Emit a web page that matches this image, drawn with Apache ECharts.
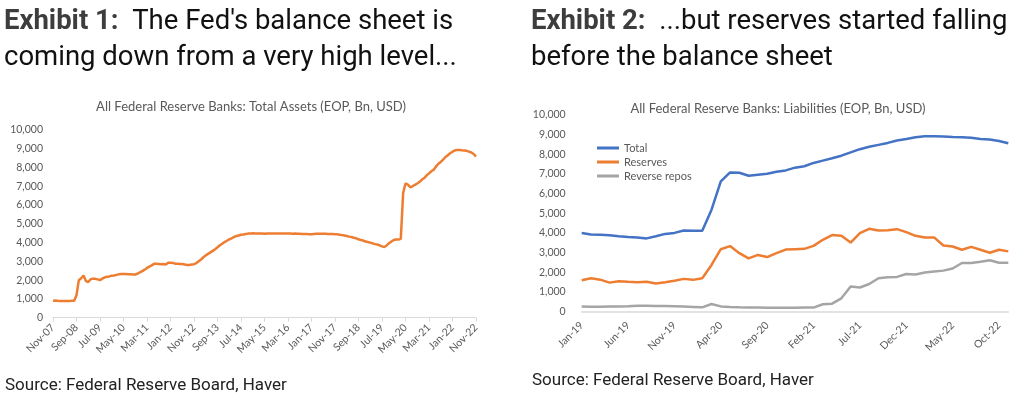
<!DOCTYPE html>
<html>
<head>
<meta charset="utf-8">
<script src="https://cdn.jsdelivr.net/npm/echarts@6/dist/echarts.min.js"></script>
<style>
html,body{margin:0;padding:0;background:#fff;}
#c{width:1024px;height:400px;}
</style>
</head>
<body>
<div id="c"></div>
<script>
var MONTHS = ['Jan','Feb','Mar','Apr','May','Jun','Jul','Aug','Sep','Oct','Nov','Dec'];
function monthLabels(startYear, startMonth, count) {
  var out = [];
  for (var i = 0; i < count; i++) {
    var m = (startMonth + i) % 12;
    var y = startYear + Math.floor((startMonth + i) / 12);
    out.push(MONTHS[m] + '-' + String(y % 100).padStart(2, '0'));
  }
  return out;
}

// Exhibit 1: total assets, monthly Nov-07 .. Nov-22 (Bn USD)
var assetCategories = monthLabels(2007, 10, 181);
var totalAssets = [
  890, 915, 900, 890, 890, 890, 890, 895, 905, 905,
  1200, 2000, 2100, 2250, 1950, 1900, 2050, 2080, 2070, 2040,
  2000, 2080, 2150, 2180, 2200, 2240, 2250, 2280, 2310, 2330,
  2330, 2330, 2320, 2310, 2300, 2300, 2350, 2420, 2480, 2560,
  2650, 2720, 2790, 2870, 2870, 2860, 2850, 2860, 2840, 2930,
  2930, 2920, 2880, 2870, 2860, 2860, 2840, 2810, 2810, 2830,
  2850, 2910, 3010, 3100, 3220, 3320, 3400, 3480, 3560, 3650,
  3750, 3860, 3940, 4030, 4100, 4170, 4230, 4300, 4350, 4380,
  4420, 4430, 4460, 4480, 4480, 4500, 4490, 4490, 4480, 4480,
  4470, 4490, 4480, 4490, 4490, 4480, 4490, 4490, 4490, 4480,
  4480, 4480, 4470, 4480, 4470, 4470, 4460, 4460, 4460, 4450,
  4450, 4460, 4470, 4470, 4470, 4470, 4470, 4460, 4460, 4460,
  4450, 4440, 4420, 4400, 4380, 4350, 4320, 4300, 4260, 4230,
  4180, 4140, 4110, 4060, 4030, 4000, 3960, 3920, 3900, 3850,
  3800, 3770, 3850, 3970, 4060, 4140, 4170, 4160, 4200, 6650,
  7150, 7090, 6950, 7000, 7080, 7150, 7240, 7360, 7440, 7580,
  7690, 7800, 7880, 8060, 8200, 8300, 8420, 8560, 8660, 8760,
  8840, 8910, 8940, 8940, 8920, 8910, 8890, 8850, 8800, 8720,
  8580
];

// Exhibit 2: liabilities, monthly Jan-19 .. Nov-22 (Bn USD)
var liabCategories = monthLabels(2019, 0, 47);
var totalLiab = [
  3990, 3920, 3910, 3880, 3830, 3790, 3760, 3720, 3830, 3950,
  4000, 4120, 4110, 4110, 5180, 6620, 7080, 7060, 6910, 6960,
  7010, 7110, 7180, 7320, 7390, 7560, 7680, 7800, 7930, 8100,
  8260, 8380, 8480, 8580, 8700, 8780, 8870, 8920, 8920, 8900,
  8880, 8870, 8840, 8780, 8750, 8680, 8560
];
var reserves = [
  1590, 1690, 1620, 1470, 1540, 1510, 1490, 1510, 1420, 1490,
  1570, 1660, 1610, 1690, 2370, 3170, 3330, 2970, 2700, 2880,
  2770, 2970, 3150, 3170, 3190, 3340, 3650, 3890, 3860, 3510,
  3990, 4210, 4120, 4140, 4190, 4040, 3850, 3770, 3770, 3360,
  3310, 3140, 3290, 3140, 2990, 3140, 3060
];
var reverseRepos = [
  250, 240, 240, 250, 260, 270, 290, 290, 280, 280,
  270, 250, 230, 210, 380, 260, 230, 210, 200, 200,
  190, 190, 190, 190, 200, 200, 370, 400, 670, 1270,
  1220, 1400, 1690, 1740, 1760, 1910, 1880, 1980, 2030, 2080,
  2190, 2470, 2470, 2530, 2610, 2480, 2480
];

var TXT = '#595959';
var AXIS = '#d9d9d9';
var BLUE = '#4472C4', ORANGE = '#ED7D31', GREY = '#A5A5A5';
var yFmt = function (v) { return v.toLocaleString('en-US'); };

var chart = echarts.init(document.getElementById('c'), null, {renderer: 'canvas'});
var titleRich = {
  b: {fontFamily: 'Roboto', fontWeight: 'bold', fontSize: 27.5, color: '#3d3d3d', lineHeight: 36},
  r: {fontFamily: 'Roboto', fontWeight: 'normal', fontSize: 27.5, color: '#111111', lineHeight: 36}
};
chart.setOption({
  animation: false,
  backgroundColor: '#ffffff',
  title: [
    {left: 4, top: 4, padding: 0, text: '{b|Exhibit 1:}{r|  The Fed\'s balance sheet is}\n{r|coming down from a very high level...}', textStyle: {rich: titleRich}},
    {left: 531, top: 4, padding: 0, text: '{b|Exhibit 2:}{r|  ...but reserves started falling}\n{r|before the balance sheet}', textStyle: {rich: titleRich}},
    {left: 251, top: 100, padding: 0, textAlign: 'center', text: 'All Federal Reserve Banks: Total Assets (EOP, Bn, USD)', textStyle: {fontFamily: 'Lato', fontWeight: 'normal', fontSize: 13, color: TXT}},
    {left: 778, top: 102, padding: 0, textAlign: 'center', text: 'All Federal Reserve Banks: Liabilities (EOP, Bn, USD)', textStyle: {fontFamily: 'Lato', fontWeight: 'normal', fontSize: 13, color: TXT}},
    {left: 5, top: 377, padding: 0, text: 'Source: Federal Reserve Board, Haver', textStyle: {fontFamily: 'Roboto', fontWeight: 'normal', fontSize: 17, color: '#222'}},
    {left: 532, top: 372, padding: 0, text: 'Source: Federal Reserve Board, Haver', textStyle: {fontFamily: 'Roboto', fontWeight: 'normal', fontSize: 17, color: '#222'}}
  ],
  legend: {
    orient: 'vertical', left: 597, top: 141, padding: 0, itemGap: 0,
    itemWidth: 22, itemHeight: 3, icon: 'rect',
    textStyle: {fontFamily: 'Lato', fontSize: 11, color: TXT, lineHeight: 14},
    data: ['Total', 'Reserves', 'Reverse repos']
  },
  grid: [
    {left: 53, top: 130, width: 423, height: 187.7},
    {left: 581.7, top: 115, width: 426.6, height: 196.5}
  ],
  xAxis: [
    {type: 'category', gridIndex: 0, data: assetCategories, boundaryGap: false,
     axisLine: {lineStyle: {color: AXIS, width: 1}},
     axisTick: {show: true, interval: 9, length: 4, lineStyle: {color: AXIS}},
     axisLabel: {interval: 9, rotate: 45, margin: 8, fontFamily: 'Lato', fontSize: 10.5, color: TXT}},
    {type: 'category', gridIndex: 1, data: liabCategories, boundaryGap: false,
     axisLine: {lineStyle: {color: AXIS, width: 1.5}},
     axisTick: {show: false},
     axisLabel: {interval: 4, rotate: 45, margin: 12, fontFamily: 'Lato', fontSize: 10.5, color: TXT}}
  ],
  yAxis: [
    {type: 'value', gridIndex: 0, min: 0, max: 10000, interval: 1000,
     axisLine: {show: false}, axisTick: {show: false}, splitLine: {show: false},
     axisLabel: {margin: 10, fontFamily: 'Lato', fontSize: 10.5, color: TXT, formatter: yFmt}},
    {type: 'value', gridIndex: 1, min: 0, max: 10000, interval: 1000,
     axisLine: {show: false}, axisTick: {show: false}, splitLine: {show: false},
     axisLabel: {margin: 16, fontFamily: 'Lato', fontSize: 10.5, color: TXT, formatter: yFmt}}
  ],
  series: [
    {name: 'Total assets', type: 'line', xAxisIndex: 0, yAxisIndex: 0, data: totalAssets,
     showSymbol: false, lineStyle: {color: ORANGE, width: 2.5}, itemStyle: {color: ORANGE}},
    {name: 'Total', type: 'line', xAxisIndex: 1, yAxisIndex: 1, data: totalLiab,
     showSymbol: false, lineStyle: {color: BLUE, width: 2.5}, itemStyle: {color: BLUE}},
    {name: 'Reserves', type: 'line', xAxisIndex: 1, yAxisIndex: 1, data: reserves,
     showSymbol: false, lineStyle: {color: ORANGE, width: 2.5}, itemStyle: {color: ORANGE}},
    {name: 'Reverse repos', type: 'line', xAxisIndex: 1, yAxisIndex: 1, data: reverseRepos,
     showSymbol: false, lineStyle: {color: GREY, width: 2.5}, itemStyle: {color: GREY}}
  ]
});
</script>
</body>
</html>
